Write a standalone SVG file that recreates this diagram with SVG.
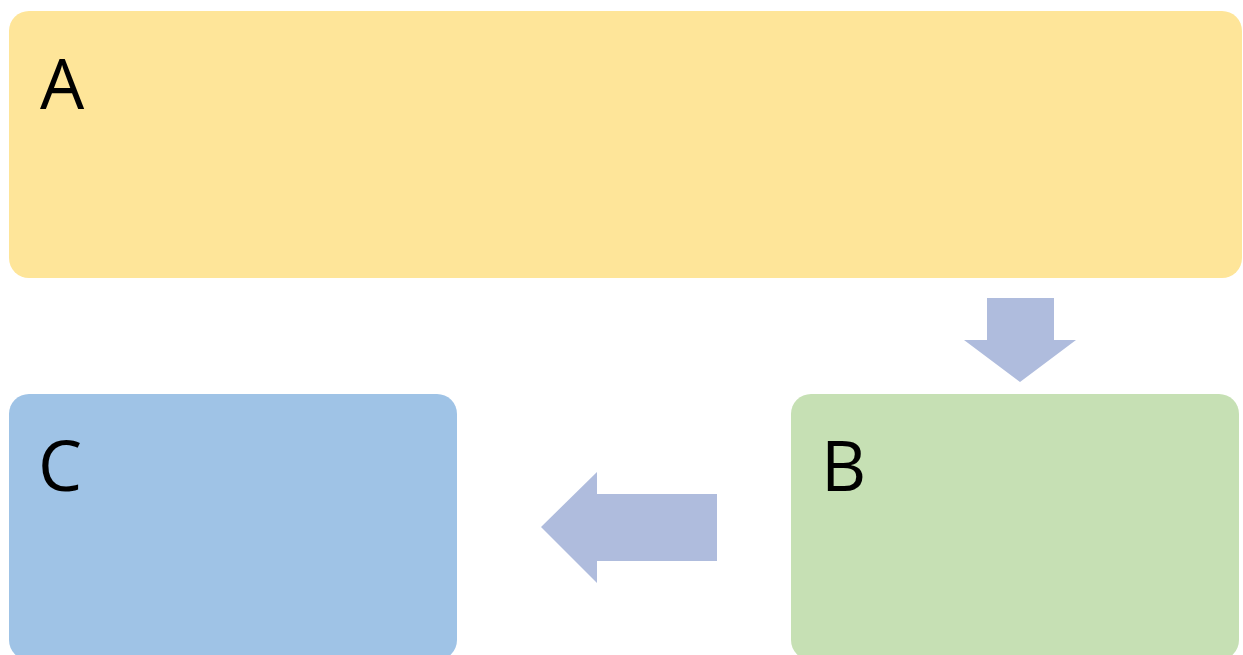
<svg xmlns="http://www.w3.org/2000/svg" width="1243" height="655" viewBox="0 0 1243 655">
<style>
.lbl{font-family:"Open Sans","Noto Sans",sans-serif;font-size:70px;fill:#000}
.arrow{fill:#AFBCDD}
</style>
<rect width="1243" height="655" fill="#fff"/>
<g id="nodeA"><rect x="9" y="11" width="1233" height="267" rx="20" fill="#FEE599"/><text class="lbl" x="40" y="109">A</text></g>
<g id="nodeB"><rect x="791" y="394" width="448" height="266" rx="20" fill="#C6E0B4"/><text class="lbl" x="821" y="491">B</text></g>
<g id="nodeC"><rect x="9" y="394" width="448" height="266" rx="20" fill="#9FC3E6"/><text class="lbl" x="38" y="491">C</text></g>
<g id="connectors">
<polygon class="arrow" points="987,298 1054,298 1054,340 1076,340 1020,382 964,340 987,340"/>
<polygon class="arrow" points="717,494 717,561 597,561 597,583 541,527 597,472 597,494"/>
</g>
</svg>
